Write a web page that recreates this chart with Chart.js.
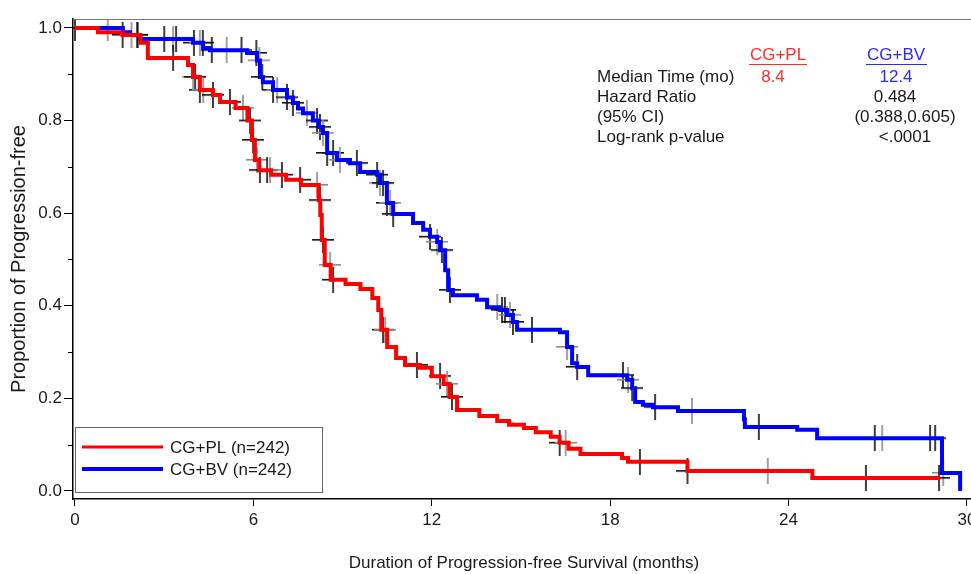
<!DOCTYPE html>
<html><head><meta charset="utf-8">
<script src="https://cdn.jsdelivr.net/npm/chart.js@4"></script>
<style>
html,body{margin:0;padding:0;background:#fff;overflow:hidden;}
#wrap{position:relative;width:971px;height:574px;overflow:hidden;background:#fff;}
#c{display:block;}
</style></head><body>
<div id="wrap"><canvas id="c" width="1000" height="574"></canvas></div>
<script>
// ---- data ----
const seriesLabels = ['CG+PL (n=242)', 'CG+BV (n=242)'];
const seriesColors = ['#ff0000', '#0000ff'];

const plTimes = [0, 0.77, 1.6, 2.2, 2.45, 3.8, 3.97, 4.2, 4.64, 4.88, 5.4, 5.8, 5.95, 6.05, 6.2, 6.6, 7.1, 7.6, 8.2, 8.25, 8.3, 8.4, 8.6, 9.1, 9.6, 10.0, 10.2, 10.3, 10.5, 10.8, 11.1, 11.6, 12.0, 12.4, 12.6, 12.85, 13.6, 14.2, 14.6, 15.1, 15.5, 16.0, 16.3, 16.6, 17.0, 18.4, 18.6, 20.6, 24.8, 29.1];
const plSurv  = [1.0, 0.991, 0.985, 0.968, 0.935, 0.92, 0.894, 0.866, 0.855, 0.84, 0.827, 0.80, 0.758, 0.715, 0.693, 0.683, 0.672, 0.661, 0.628, 0.596, 0.542, 0.488, 0.456, 0.447, 0.436, 0.417, 0.391, 0.348, 0.311, 0.287, 0.272, 0.266, 0.248, 0.231, 0.203, 0.175, 0.162, 0.151, 0.143, 0.136, 0.127, 0.117, 0.104, 0.091, 0.080, 0.071, 0.063, 0.043, 0.028, 0.028];

const bvTimes = [0, 1.61, 1.85, 2.19, 3.97, 4.31, 4.54, 5.79, 6.12, 6.22, 6.32, 6.66, 7.13, 7.33, 7.5, 7.67, 8.0, 8.2, 8.34, 8.48, 8.81, 9.25, 9.59, 10.16, 10.26, 10.49, 10.70, 11.37, 11.71, 11.94, 12.18, 12.28, 12.45, 12.55, 12.71, 13.52, 13.86, 14.3, 14.53, 14.73, 14.87, 16.31, 16.55, 16.72, 16.89, 17.26, 18.57, 18.74, 18.84, 19.1, 19.44, 20.28, 22.5, 22.53, 24.29, 24.96, 29.16, 29.77];
const bvSurv  = [1.0, 0.991, 0.985, 0.976, 0.968, 0.957, 0.952, 0.946, 0.93, 0.894, 0.883, 0.866, 0.85, 0.838, 0.826, 0.816, 0.80, 0.786, 0.773, 0.73, 0.715, 0.708, 0.689, 0.683, 0.665, 0.622, 0.598, 0.579, 0.564, 0.549, 0.538, 0.52, 0.477, 0.434, 0.423, 0.413, 0.397, 0.391, 0.38, 0.365, 0.348, 0.343, 0.311, 0.276, 0.268, 0.25, 0.240, 0.222, 0.192, 0.186, 0.181, 0.173, 0.155, 0.138, 0.132, 0.114, 0.039, 0.0];

const plCensor = [1.6, 1.9, 2.1, 3.3, 3.97, 4.04, 4.2, 4.31, 4.64, 5.21, 5.65, 5.89, 5.99, 6.12, 6.22, 6.46, 6.56, 6.96, 7.57, 8.14, 8.24, 8.34, 8.58, 8.68, 10.36, 10.43, 11.5, 12.28, 12.51, 12.68, 16.3, 16.5, 19.0, 20.6, 23.3, 26.6, 29.06];
const bvCensor = [0.0, 1.1, 2.1, 3.0, 3.3, 3.4, 4.0, 4.2, 4.3, 4.6, 5.1, 5.6, 6.1, 6.2, 6.3, 6.66, 6.8, 7.13, 7.33, 7.8, 8.14, 8.24, 8.34, 8.48, 8.68, 8.91, 9.48, 10.16, 10.26, 10.36, 10.49, 10.6, 10.7, 11.94, 12.18, 12.34, 12.61, 14.2, 14.36, 14.46, 14.63, 14.73, 15.37, 16.55, 16.89, 18.43, 18.6, 18.74, 19.51, 20.75, 23.0, 26.9, 27.15, 28.76, 28.93, 29.2];

const xTicks = [0, 6, 12, 18, 24, 30];
const yTicks = [0, 0.2, 0.4, 0.6, 0.8, 1.0];
const yMinorTicks = [0.1, 0.3, 0.5, 0.7, 0.9];
const xTitle = 'Duration of Progression-free Survival (months)';
const yTitle = 'Proportion of Progression-free';
const statsHeader = ['CG+PL', 'CG+BV'];
const statsLabels = ['Median Time (mo)', 'Hazard Ratio', '(95% CI)', 'Log-rank p-value'];
const statsPL = ['8.4', '', '', ''];
const statsBV = ['12.4', '0.484', '(0.388,0.605)', '<.0001'];

// ---- helpers ----
const FONT = "'Liberation Sans', Arial, Helvetica, sans-serif";
function toPoints(t, s) { return t.map((v, i) => ({x: v, y: s[i]})); }
function survAt(times, surv, t) {
  let s = surv[0];
  for (let i = 0; i < times.length; i++) { if (times[i] <= t) s = surv[i]; else break; }
  return s;
}
function makeCross(color) {
  const c = document.createElement('canvas');
  c.width = 22; c.height = 26;
  const g = c.getContext('2d');
  g.fillStyle = color;
  g.fillRect(0, 12, 22, 1.6);
  g.fillRect(10.2, 0, 1.6, 26);
  return c;
}
const crossDark = makeCross('#111111');
const crossGray = makeCross('#8a8a8a');
const crossStyle = ctx => (ctx.dataIndex % 3 === 1 ? crossGray : crossDark);

const decor = {
  id: 'decor',
  afterDraw(chart) {
    const {ctx, chartArea: a, scales} = chart;
    ctx.save();
    // top frame line
    ctx.strokeStyle = '#777'; ctx.lineWidth = 1;
    ctx.beginPath(); ctx.moveTo(a.left, a.top + 0.5); ctx.lineTo(a.right, a.top + 0.5); ctx.stroke();
    // minor y ticks
    ctx.strokeStyle = '#000'; ctx.lineWidth = 1;
    yMinorTicks.forEach(v => {
      const y = Math.round(scales.y.getPixelForValue(v)) + 0.5;
      ctx.beginPath(); ctx.moveTo(a.left - 5, y); ctx.lineTo(a.left, y); ctx.stroke();
    });
    // legend box
    ctx.strokeStyle = '#666'; ctx.lineWidth = 1;
    ctx.strokeRect(75.5, 427.5, 247, 65);
    ctx.font = '17px ' + FONT; ctx.textBaseline = 'middle'; ctx.textAlign = 'left';
    const ly = [447, 469], lw = [3, 4];
    seriesLabels.forEach((lab, i) => {
      ctx.strokeStyle = seriesColors[i]; ctx.lineWidth = lw[i];
      ctx.beginPath(); ctx.moveTo(82, ly[i]); ctx.lineTo(163, ly[i]); ctx.stroke();
      ctx.fillStyle = '#1a1a1a'; ctx.fillText(lab, 170, ly[i] + 1);
    });
    // statistics table
    ctx.textAlign = 'center';
    ctx.fillStyle = '#ff2a2a'; ctx.fillText(statsHeader[0], 778, 55);
    ctx.fillStyle = '#2a2aff'; ctx.fillText(statsHeader[1], 896, 55);
    ctx.lineWidth = 1;
    ctx.strokeStyle = '#ff2a2a'; ctx.beginPath(); ctx.moveTo(749, 64.5); ctx.lineTo(807, 64.5); ctx.stroke();
    ctx.strokeStyle = '#2a2aff'; ctx.beginPath(); ctx.moveTo(866, 64.5); ctx.lineTo(927, 64.5); ctx.stroke();
    const rowY = [77, 97, 117, 137];
    const bvX = [896, 895, 905, 905];
    statsLabels.forEach((lab, i) => {
      ctx.textAlign = 'left'; ctx.fillStyle = '#1a1a1a'; ctx.fillText(lab, 597, rowY[i]);
      ctx.textAlign = 'center';
      if (statsPL[i]) { ctx.fillStyle = '#ff2a2a'; ctx.fillText(statsPL[i], 773, rowY[i]); }
      ctx.fillStyle = i === 0 ? '#2a2aff' : '#1a1a1a';
      ctx.fillText(statsBV[i], bvX[i], rowY[i]);
    });
    ctx.restore();
  }
};

new Chart(document.getElementById('c'), {
  type: 'line',
  data: {
    datasets: [
      { label: seriesLabels[0], data: toPoints(plTimes, plSurv), borderColor: seriesColors[0], borderWidth: 4,
        stepped: 'before', pointRadius: 0, fill: false, order: 0 },
      { label: seriesLabels[1], data: toPoints(bvTimes, bvSurv), borderColor: seriesColors[1], borderWidth: 4,
        stepped: 'before', pointRadius: 0, fill: false, order: 0 },
      { label: 'PL censored', data: plCensor.map(t => ({x: t, y: survAt(plTimes, plSurv, t)})), showLine: false,
        pointStyle: crossStyle, pointRadius: 10, order: 1 },
      { label: 'BV censored', data: bvCensor.map(t => ({x: t, y: survAt(bvTimes, bvSurv, t)})), showLine: false,
        pointStyle: crossStyle, pointRadius: 10, order: 1 }
    ]
  },
  options: {
    responsive: false, animation: false, devicePixelRatio: 1,
    layout: { padding: { top: 19, right: 25, left: 0, bottom: 0 } },
    plugins: { legend: { display: false }, tooltip: { enabled: false } },
    scales: {
      x: {
        type: 'linear', min: -0.067, max: 30.27,
        afterBuildTicks: s => { s.ticks = xTicks.map(v => ({value: v})); },
        afterFit: s => { s.height = 75; s.paddingLeft = 0; s.paddingRight = 0; },
        ticks: { font: { size: 17, family: FONT }, color: '#1a1a1a', padding: 4, maxRotation: 0, autoSkip: false },
        grid: { drawOnChartArea: false, drawTicks: true, tickLength: 7, tickColor: '#000', tickWidth: 1 },
        border: { color: '#000', width: 1.5 },
        title: { display: true, text: xTitle, font: { size: 17, family: FONT }, color: '#1a1a1a', padding: { top: 0, bottom: 0 } }
      },
      y: {
        type: 'linear', min: -0.0173, max: 1.0194,
        afterBuildTicks: s => { s.ticks = yTicks.map(v => ({value: v})); },
        afterFit: s => { s.width = 73; s.paddingTop = 0; s.paddingBottom = 0; },
        ticks: { font: { size: 17, family: FONT }, color: '#1a1a1a', padding: 2, callback: v => Number(v).toFixed(1) },
        grid: { drawOnChartArea: false, drawTicks: true, tickLength: 9, tickColor: '#000', tickWidth: 1 },
        border: { color: '#000', width: 1.5 },
        title: { display: true, text: yTitle, font: { size: 20, family: FONT }, color: '#1a1a1a', padding: { top: 7, bottom: 0 } }
      }
    }
  },
  plugins: [decor]
});
</script>
</body></html>
